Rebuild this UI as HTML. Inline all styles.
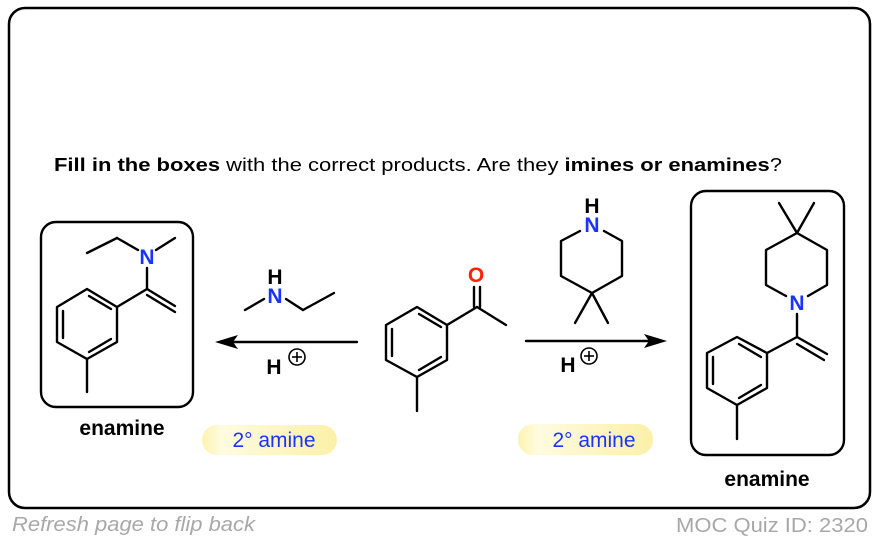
<!DOCTYPE html>
<html><head><meta charset="utf-8"><style>
html,body{margin:0;padding:0;background:#fff;width:878px;height:542px;overflow:hidden}
svg{display:block;font-family:"Liberation Sans",Arial,sans-serif}
</style></head><body>
<svg width="878" height="542" viewBox="0 0 878 542" xmlns="http://www.w3.org/2000/svg">
<defs>
<linearGradient id="pill" x1="0" y1="0" x2="1" y2="0">
<stop offset="0" stop-color="#fdf3b0"/><stop offset="0.15" stop-color="#fffbe0"/><stop offset="1" stop-color="#fcf0a8"/>
</linearGradient>
</defs>
<rect x="9" y="8" width="861" height="500" rx="16" fill="#fff" stroke="#000" stroke-width="2.5"/>
<text x="54" y="171" font-size="18" textLength="728" lengthAdjust="spacingAndGlyphs"><tspan font-weight="bold">Fill in the boxes</tspan> with the correct products. Are they <tspan font-weight="bold">imines or enamines</tspan>?</text>

<g fill="none" stroke="#000" stroke-width="2.4" stroke-linecap="round" stroke-linejoin="round">
<rect x="41" y="222" width="152" height="185" rx="15"/>
<polygon points="87,289 117,307 117,342 87,359 57,342 57,307"/>
<line x1="63" y1="311" x2="63" y2="338"/>
<line x1="89" y1="296" x2="111" y2="309"/>
<line x1="89" y1="352" x2="111" y2="339"/>
<line x1="87" y1="359" x2="87" y2="392"/>
<line x1="117" y1="307" x2="147" y2="289"/>
<line x1="147" y1="289" x2="175" y2="306"/>
<line x1="147" y1="295" x2="175" y2="312"/>
<line x1="147" y1="289" x2="147" y2="268"/>
<line x1="156" y1="250" x2="175" y2="238"/>
<line x1="138" y1="250" x2="117" y2="238"/>
<line x1="117" y1="238" x2="87" y2="253"/>
<line x1="264" y1="299" x2="245" y2="310"/>
<line x1="286" y1="299" x2="303" y2="310"/>
<line x1="303" y1="310" x2="334" y2="293"/>
<line x1="357" y1="342" x2="228" y2="342"/>
<polygon points="417,307 447,325 447,360 417,377 386,360 386,325"/>
<line x1="392" y1="329" x2="392" y2="356"/>
<line x1="419" y1="314" x2="441" y2="327"/>
<line x1="419" y1="370" x2="441" y2="357"/>
<line x1="417" y1="377" x2="417" y2="411"/>
<line x1="447" y1="325" x2="477" y2="307"/>
<line x1="477" y1="307" x2="506" y2="325"/>
<line x1="474" y1="307" x2="474" y2="287"/>
<line x1="480" y1="307" x2="480" y2="287"/>
<line x1="526" y1="341" x2="654" y2="341"/>
<polyline points="580,231 561,241 561,276 592,293 622,276 622,241 604,231"/>
<line x1="592" y1="293" x2="575" y2="323"/>
<line x1="592" y1="293" x2="608" y2="323"/>
<rect x="691" y="191" width="153" height="264" rx="15"/>
<line x1="797" y1="233" x2="779" y2="203"/>
<line x1="797" y1="233" x2="814" y2="203"/>
<polyline points="786,296 766,285 766,250 797,233 827,250 827,285 808,296"/>
<line x1="797" y1="314" x2="797" y2="337"/>
<line x1="797" y1="337" x2="827" y2="354"/>
<line x1="797" y1="344" x2="824" y2="360"/>
<line x1="797" y1="337" x2="767" y2="353"/>
<polygon points="737,337 767,353 767,388 737,405 707,388 707,353"/>
<line x1="713" y1="357" x2="713" y2="384"/>
<line x1="739" y1="344" x2="761" y2="357"/>
<line x1="739" y1="398" x2="761" y2="385"/>
<line x1="737" y1="405" x2="737" y2="439"/>
</g>
<polygon points="215,342 238,335 233,342 238,349" fill="#000"/>
<polygon points="667,341 644,334 649,341 644,348" fill="#000"/>

<g font-weight="bold" font-size="21" text-anchor="middle">
<text x="147" y="264" fill="#1a33ff">N</text>
<text x="275" y="284" fill="#000">H</text>
<text x="275" y="303" fill="#1a33ff">N</text>
<text x="476" y="282" fill="#ff2200">O</text>
<text x="592" y="213" fill="#000">H</text>
<text x="592" y="232" fill="#1a33ff">N</text>
<text x="797" y="310" fill="#1a33ff">N</text>
<text x="274" y="374" fill="#000">H</text>
<text x="568" y="372" fill="#000">H</text>
<text x="122" y="435" fill="#000">enamine</text>
<text x="767" y="486" fill="#000">enamine</text>
</g>
<g fill="none" stroke="#000" stroke-width="1.6">
<circle cx="297" cy="357" r="8"/><line x1="292" y1="357" x2="302" y2="357"/><line x1="297" y1="352" x2="297" y2="362"/>
<circle cx="589" cy="356" r="8"/><line x1="584" y1="356" x2="594" y2="356"/><line x1="589" y1="351" x2="589" y2="361"/>
</g>
<rect x="202" y="425" width="135" height="30" rx="15" fill="url(#pill)"/>
<rect x="518" y="424" width="135" height="31" rx="15" fill="url(#pill)"/>
<text x="274" y="447" font-size="21" fill="#1a33ff" text-anchor="middle">2° amine</text>
<text x="594" y="447" font-size="21" fill="#1a33ff" text-anchor="middle">2° amine</text>
<text x="12" y="531" font-size="20" font-style="italic" fill="#a8a8a8" textLength="243" lengthAdjust="spacingAndGlyphs">Refresh page to flip back</text>
<text x="868" y="532" font-size="20" fill="#a8a8a8" text-anchor="end" textLength="192" lengthAdjust="spacingAndGlyphs">MOC Quiz ID: 2320</text>
</svg>
</body></html>
